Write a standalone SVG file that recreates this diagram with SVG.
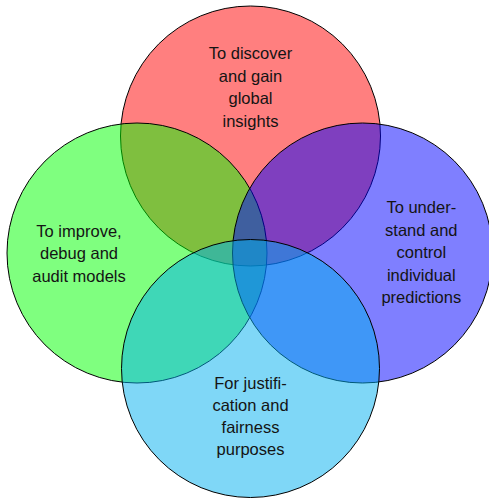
<svg xmlns="http://www.w3.org/2000/svg" width="489" height="498" viewBox="0 0 489 498">
  <style>
    .set { stroke: #000; stroke-width: 1; fill-opacity: 0.5; }
    .label { font-family: "Liberation Sans", Arial, sans-serif; font-size: 16.5px; fill: #141414; text-anchor: middle; }
  </style>
  <rect width="489" height="498" fill="#fff"/>
  <g id="global">
    <circle class="set" cx="250.5" cy="136" r="130" fill="#ff0000"/>
    <text class="label" x="250.5" y="59.3">To discover</text>
    <text class="label" x="250.5" y="81.8">and gain</text>
    <text class="label" x="250.5" y="104.3">global</text>
    <text class="label" x="250.5" y="126.8">insights</text>
  </g>
  <g id="improve">
    <circle class="set" cx="137" cy="253" r="130" fill="#00ff00"/>
    <text class="label" x="79" y="236.7">To improve,</text>
    <text class="label" x="79" y="259.2">debug and</text>
    <text class="label" x="79" y="281.7">audit models</text>
  </g>
  <g id="individual">
    <circle class="set" cx="362.5" cy="253" r="130" fill="#0000ff"/>
    <text class="label" x="421.3" y="213.3">To under-</text>
    <text class="label" x="421.3" y="235.8">stand and</text>
    <text class="label" x="421.3" y="258.2">control</text>
    <text class="label" x="421.3" y="280.6">individual</text>
    <text class="label" x="421.3" y="303">predictions</text>
  </g>
  <g id="justification">
    <circle class="set" cx="250.5" cy="368.5" r="129" fill="#00b0f0"/>
    <text class="label" x="250.5" y="388.5">For justifi-</text>
    <text class="label" x="250.5" y="410.5">cation and</text>
    <text class="label" x="250.5" y="432.5">fairness</text>
    <text class="label" x="250.5" y="454.5">purposes</text>
  </g>
  <g id="connectors"/>
</svg>
